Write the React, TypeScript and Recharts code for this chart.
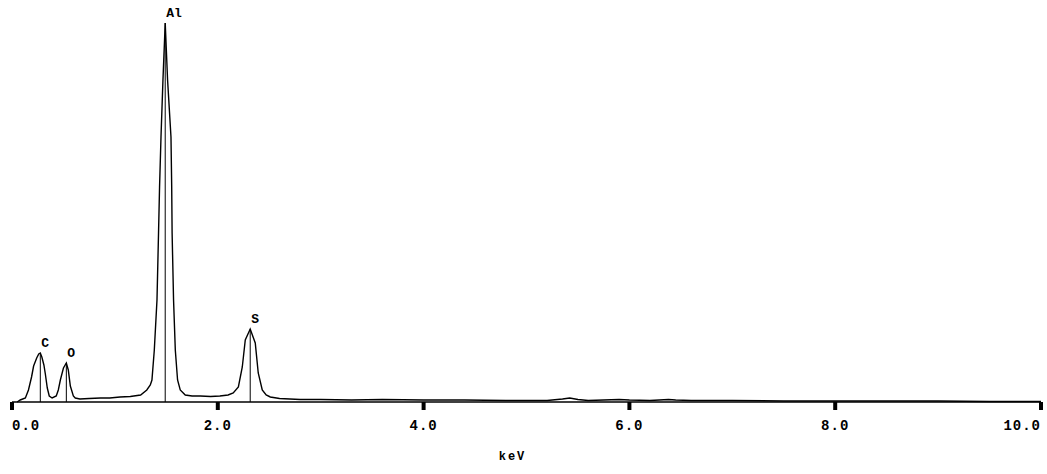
import { LineChart, Line, XAxis, YAxis, ReferenceLine, ReferenceDot } from 'recharts';

// EDS spectrum, counts (arbitrary units)
const energies = [
  0.05, 0.08, 0.13, 0.16, 0.19, 0.21, 0.24, 0.26, 0.275, 0.29, 0.31, 0.324, 0.343, 0.362, 0.39,
  0.43, 0.45, 0.47, 0.5, 0.528, 0.547, 0.567, 0.596, 0.615, 0.66, 0.75, 0.86, 0.95, 1.05, 1.15,
  1.25, 1.31, 1.344, 1.36, 1.383, 1.409, 1.424, 1.434, 1.448, 1.467, 1.489, 1.512, 1.545, 1.552,
  1.556, 1.57, 1.587, 1.609, 1.635, 1.684, 1.75, 1.83, 1.93, 2.02, 2.1, 2.15, 2.2, 2.238, 2.267,
  2.315, 2.364, 2.393, 2.432, 2.47, 2.51, 2.6, 2.7, 2.8, 3.0, 3.3, 3.6, 4.0, 4.4, 4.8, 5.2, 5.35,
  5.42, 5.5, 5.6, 5.9, 6.0, 6.2, 6.38, 6.45, 6.6, 7.0, 7.5, 8.0, 8.5, 9.0, 9.5, 10.0,
];
const counts = [
  0, 2, 4, 12, 25, 36, 44, 48, 49, 45, 37, 28, 14, 6, 4,
  6, 12, 22, 34, 39, 32, 16, 6, 4, 3, 3.5, 4, 4, 5, 5.5,
  7, 12, 17, 22, 52, 102, 169, 215, 265, 322, 379, 322, 265, 215,
  169, 102, 52, 22, 12, 7, 6, 6, 5.5, 6, 7, 9, 15, 35, 62,
  73, 59, 29, 12, 7, 5, 3.5, 3, 2.5, 2.5, 2, 2.5, 2, 2, 1.5, 1.5, 3,
  4, 2.5, 1.5, 2.5, 2, 1.5, 2.5, 2, 1.5, 1.5, 1, 1, 1, 1, 0.5, 0.5,
];

// element line markers
const elementNames = ['C', 'O', 'Al', 'S'];
const elementEnergies = [0.275, 0.528, 1.489, 2.315];
const elementHeights = [49, 39, 379, 73];

const xTicks = [0, 2, 4, 6, 8, 10];

const data = energies.map((e, i) => ({ keV: e, counts: counts[i] }));

const FONT = '"Liberation Mono", "DejaVu Sans Mono", monospace';

const KevTick = (props: any) => {
  const { x, y, payload, index } = props;
  const anchor = index === 0 ? 'start' : index === xTicks.length - 1 ? 'end' : 'middle';
  return (
    <text x={x} y={y} dy={18} textAnchor={anchor} fontFamily={FONT} fontWeight="bold"
      fontSize={14} letterSpacing={1} fill="#000">
      {payload.value.toFixed(1)}
    </text>
  );
};

export default function App() {
  return (
    <div style={{ position: 'absolute', left: 0, top: 0, background: '#fff' }}>
      <LineChart width={1047} height={474} data={data}
        margin={{ top: 2, right: 6, bottom: 0, left: 12 }}>
        <XAxis dataKey="keV" type="number" domain={[0, 10]} ticks={xTicks}
          axisLine={{ stroke: '#000', strokeWidth: 1.5 }}
          tickLine={{ stroke: '#000', strokeWidth: 4 }} tickSize={8}
          tick={<KevTick />} height={72} interval={0}
          label={{ value: 'keV', position: 'insideBottom', offset: 14, dx: -14, fill: '#000',
            fontFamily: FONT, fontWeight: 'bold', fontSize: 12, letterSpacing: 2 }} />
        <YAxis hide domain={[0, 400]} />
        {elementNames.map((name, i) => (
          <ReferenceLine key={'l' + name} segment={[
            { x: elementEnergies[i], y: 0 }, { x: elementEnergies[i], y: elementHeights[i] },
          ]} stroke="#000" strokeWidth={1} />
        ))}
        <Line type="linear" dataKey="counts" stroke="#000" strokeWidth={1.4} dot={false}
          isAnimationActive={false} />
        {elementNames.map((name, i) => (
          <ReferenceDot key={'d' + name} x={elementEnergies[i]} y={elementHeights[i]} r={0}
            shape={(p: any) => (
              <text x={p.cx + 1} y={p.cy - 6} fontFamily={FONT} fontWeight="bold"
                fontSize={13} fill="#000">{name}</text>
            )} />
        ))}
      </LineChart>
    </div>
  );
}
